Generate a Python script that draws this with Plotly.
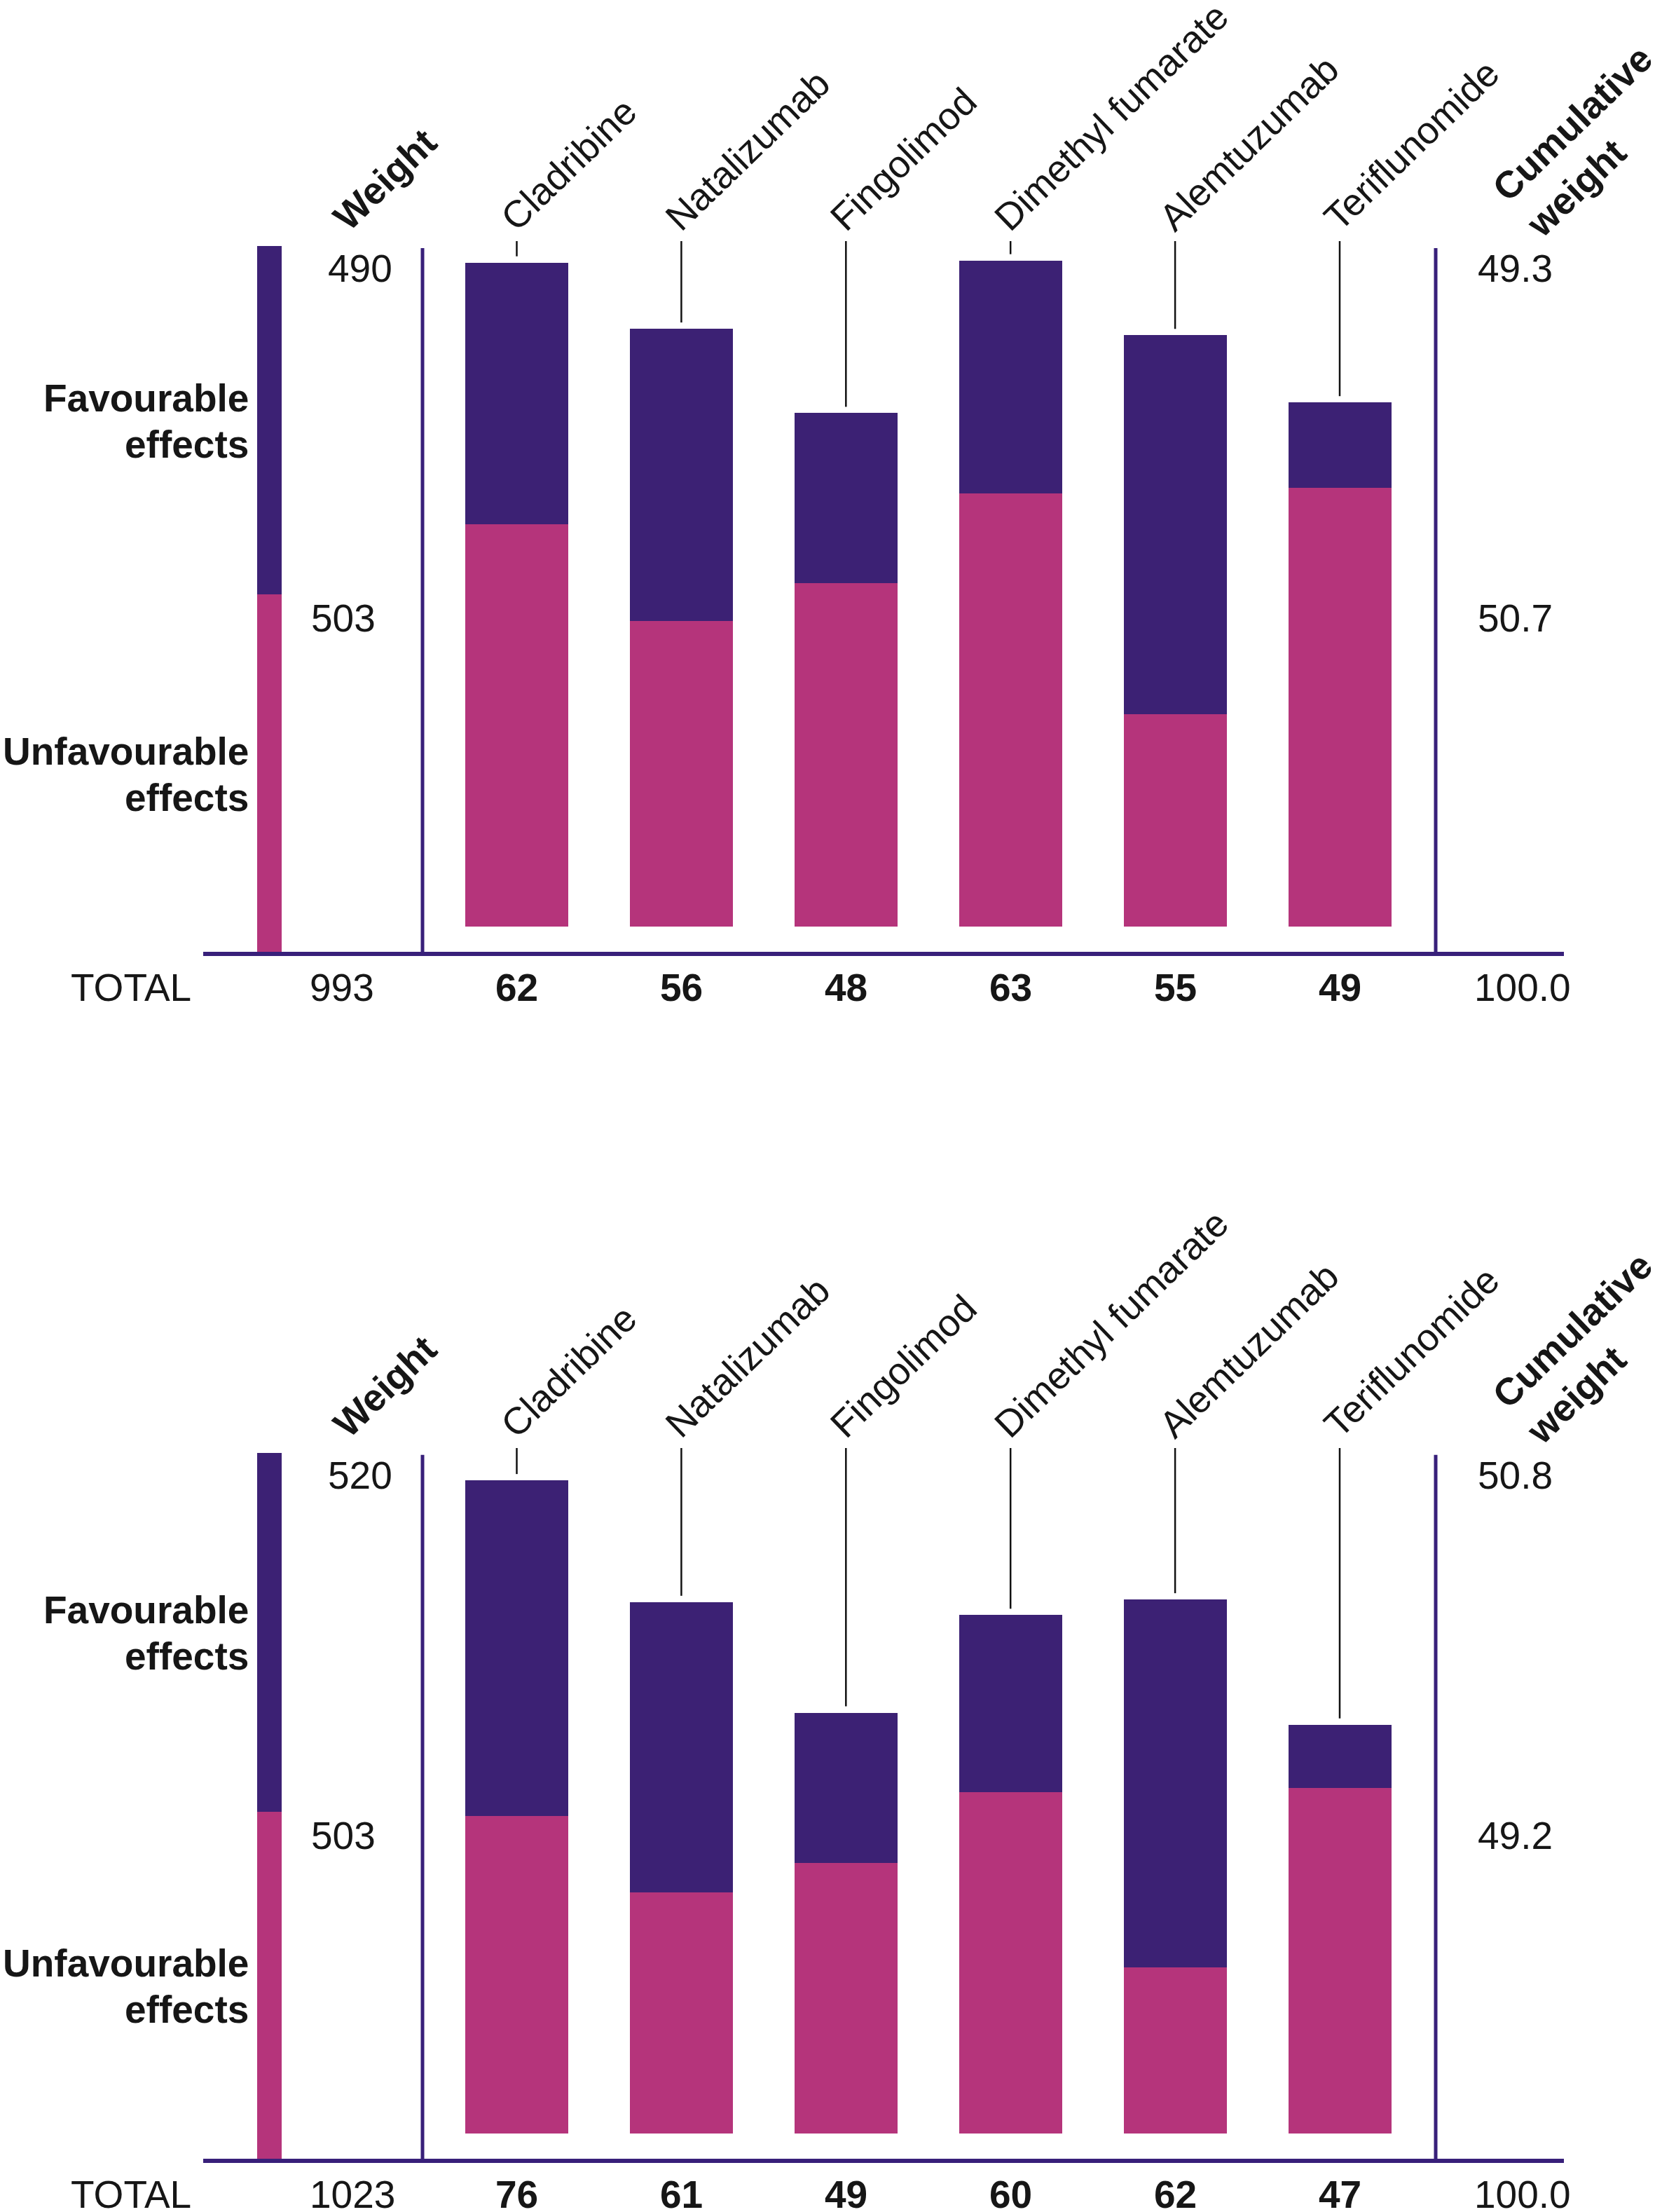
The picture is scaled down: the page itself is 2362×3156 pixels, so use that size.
import plotly.graph_objects as go

# ---------------- data ----------------
drugs = ["Cladribine", "Natalizumab", "Fingolimod", "Dimethyl fumarate", "Alemtuzumab", "Teriflunomide"]

# Panel A (top)
fav_a = [24.5, 27.4, 15.9, 21.8, 35.5, 8.0]
unfav_a = [37.7, 28.6, 32.2, 40.6, 19.9, 41.1]
total_a = [62, 56, 48, 63, 55, 49]
weight_fav_a = 490
weight_unfav_a = 503
weight_total_a = 993
cum_fav_a = 49.3
cum_unfav_a = 50.7

# Panel B (bottom)
fav_b = [38.9, 33.6, 17.4, 20.5, 42.6, 7.3]
unfav_b = [36.7, 27.9, 31.3, 39.5, 19.2, 40.0]
total_b = [76, 61, 49, 60, 62, 47]
weight_fav_b = 520
weight_unfav_b = 503
weight_total_b = 1023
cum_fav_b = 50.8
cum_unfav_b = 49.2

# ---------------- style / layout ----------------
W, H = 2362, 3156
PUR = "#3C2174"
MAG = "#B5347B"
LINE_PUR = "#38207A"
TXT = "#161616"
FONT = "Liberation Sans, Arial, Helvetica, sans-serif"
FS = 55
FS_ROT = 54
ANG = -44

X0_PX, SLOT = 737.5, 234.9


def xd(px):
    return (px - X0_PX) / SLOT


XR = [xd(0), xd(W)]
WX = xd(384)            # weight bar position
BAR_W = 147 / SLOT
WBAR_W = 35 / SLOT
ROT_XSHIFT = -37

panels = [
    dict(fav=fav_a, unfav=unfav_a, tot=total_a, wf=weight_fav_a, wu=weight_unfav_a,
         wt=weight_total_a, cf=cum_fav_a, cu=cum_unfav_a,
         dom=(0, 1578), shift=0, bar_zero=1322, k_bar=15.23, w_zero=1359, k_w=1.0151,
         xa="x", ya="y", yw="y2"),
    dict(fav=fav_b, unfav=unfav_b, tot=total_b, wf=weight_fav_b, wu=weight_unfav_b,
         wt=weight_total_b, cf=cum_fav_b, cu=cum_unfav_b,
         dom=(1578, 3156), shift=1722, bar_zero=3043.5, k_bar=12.32, w_zero=3081, k_w=0.9856,
         xa="x2", ya="y3", yw="y4"),
]

fig = go.Figure()
shapes = []
annotations = []
layout_axes = {}

idx = list(range(len(drugs)))


def txt(**kw):
    size = kw.pop("size", FS)
    d = dict(showarrow=False, font=dict(size=size, color=TXT, family=FONT))
    d.update(kw)
    return d


for n, p in enumerate(panels):
    xa, ya, yw = p["xa"], p["ya"], p["yw"]
    top_px, bot_px = p["dom"]
    bar_rng = [(p["bar_zero"] - bot_px) / p["k_bar"], (p["bar_zero"] - top_px) / p["k_bar"]]
    w_rng = [(p["w_zero"] - bot_px) / p["k_w"], (p["w_zero"] - top_px) / p["k_w"]]
    dom = [1 - bot_px / H, 1 - top_px / H]

    def pb(px, p=p):  # pixel -> bar axis units
        return (p["bar_zero"] - px) / p["k_bar"]

    xname = "xaxis" if xa == "x" else "xaxis2"
    yname = "yaxis" if ya == "y" else "yaxis3"
    ywname = "yaxis2" if yw == "y2" else "yaxis4"
    layout_axes[xname] = dict(range=XR, visible=False, fixedrange=True, anchor=ya, domain=[0, 1])
    layout_axes[yname] = dict(range=bar_rng, visible=False, fixedrange=True, anchor=xa, domain=dom)
    layout_axes[ywname] = dict(range=w_rng, visible=False, fixedrange=True, anchor=xa, overlaying=ya)

    # drug bars
    fig.add_trace(go.Bar(x=idx, y=p["unfav"], width=BAR_W, marker=dict(color=MAG, line=dict(width=0)),
                         xaxis=xa, yaxis=ya, hoverinfo="skip"))
    fig.add_trace(go.Bar(x=idx, y=p["fav"], width=BAR_W, marker=dict(color=PUR, line=dict(width=0)),
                         xaxis=xa, yaxis=ya, hoverinfo="skip"))
    # weight bar
    fig.add_trace(go.Bar(x=[WX], y=[p["wu"]], width=WBAR_W, marker=dict(color=MAG, line=dict(width=0)),
                         xaxis=xa, yaxis=yw, hoverinfo="skip"))
    fig.add_trace(go.Bar(x=[WX], y=[p["wf"]], width=WBAR_W, marker=dict(color=PUR, line=dict(width=0)),
                         xaxis=xa, yaxis=yw, hoverinfo="skip"))

    sh = p["shift"]
    leader_top = pb(344 + sh)
    label_base = pb(343 + sh)
    gap = 9 / p["k_bar"]

    for i, name in enumerate(drugs):
        top = p["fav"][i] + p["unfav"][i]
        shapes.append(dict(type="line", xref=xa, yref=ya, x0=i, x1=i, y0=top + gap, y1=leader_top,
                           line=dict(color="#111111", width=2.5)))
        annotations.append(txt(x=i, y=label_base, xref=xa, yref=ya, text=name, textangle=ANG,
                               xanchor="left", yanchor="bottom", xshift=ROT_XSHIFT, size=FS_ROT))
        annotations.append(txt(x=i, y=0, xref=xa, yref=yw, text="<b>%d</b>" % p["tot"][i],
                               xanchor="center", yanchor="middle", yshift=-50))

    # Weight / Cumulative weight headers
    annotations.append(txt(x=xd(498), y=label_base, xref=xa, yref=ya, text="<b>Weight</b>", textangle=ANG,
                           xanchor="left", yanchor="bottom", xshift=ROT_XSHIFT, size=FS_ROT))
    annotations.append(txt(x=xd(2115), y=pb(352 + sh), xref=xa, yref=ya,
                           text="<b>Cumulative</b><br><b>weight</b>", textangle=ANG, align="left",
                           xanchor="left", yanchor="bottom", size=FS_ROT))

    # vertical separators and baseline
    for vx in (xd(603), xd(2049)):
        shapes.append(dict(type="line", xref=xa, yref=yw, x0=vx, x1=vx, y0=0, y1=p["wt"] - 3 / p["k_w"],
                           line=dict(color=LINE_PUR, width=5)))
    shapes.append(dict(type="line", xref=xa, yref=yw, x0=xd(290), x1=xd(2232), y0=-2 / p["k_w"],
                       y1=-2 / p["k_w"], line=dict(color=LINE_PUR, width=6)))

    # row labels (two lines each, tighter leading than plotly's default)
    for mid, word in ((p["wu"] + p["wf"] / 2, "Favourable"), (p["wu"] / 2, "Unfavourable")):
        annotations.append(txt(x=xd(357), y=mid, xref=xa, yref=yw, text="<b>%s</b>" % word,
                               xanchor="right", yanchor="middle", yshift=32))
        annotations.append(txt(x=xd(357), y=mid, xref=xa, yref=yw, text="<b>effects</b>",
                               xanchor="right", yanchor="middle", yshift=-34))

    # weight values
    annotations.append(txt(x=xd(466), y=p["wt"], xref=xa, yref=yw, text=str(p["wf"]),
                           xanchor="left", yanchor="middle", yshift=-32))
    annotations.append(txt(x=xd(442), y=p["wu"], xref=xa, yref=yw, text=str(p["wu"]),
                           xanchor="left", yanchor="middle", yshift=-34))
    # cumulative values
    annotations.append(txt(x=xd(2107), y=p["wt"], xref=xa, yref=yw, text="%.1f" % p["cf"],
                           xanchor="left", yanchor="middle", yshift=-32))
    annotations.append(txt(x=xd(2107), y=p["wu"], xref=xa, yref=yw, text="%.1f" % p["cu"],
                           xanchor="left", yanchor="middle", yshift=-34))
    # TOTAL row
    annotations.append(txt(x=xd(99), y=0, xref=xa, yref=yw, text="TOTAL",
                           xanchor="left", yanchor="middle", yshift=-50))
    annotations.append(txt(x=xd(440), y=0, xref=xa, yref=yw, text=str(p["wt"]),
                           xanchor="left", yanchor="middle", yshift=-50))
    annotations.append(txt(x=xd(2102), y=0, xref=xa, yref=yw, text="%.1f" % (p["cf"] + p["cu"]),
                           xanchor="left", yanchor="middle", yshift=-50))

fig.update_layout(
    width=W, height=H,
    margin=dict(l=0, r=0, t=0, b=0, pad=0),
    barmode="stack",
    bargap=0,
    showlegend=False,
    paper_bgcolor="white",
    plot_bgcolor="white",
    shapes=shapes,
    annotations=annotations,
    font=dict(family=FONT, color=TXT),
    **layout_axes,
)

fig.write_html(
    "out.html",
    config={"displayModeBar": False, "staticPlot": True},
    post_script="document.body.style.margin='0px';document.body.style.overflow='hidden';",
)
